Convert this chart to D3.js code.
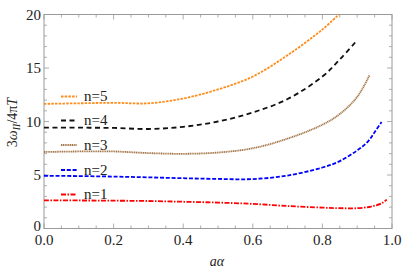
<!DOCTYPE html>
<html>
<head>
<meta charset="utf-8">
<script src="https://cdn.jsdelivr.net/npm/d3@7"></script>
<style>
  body { margin: 0; background: #fff; }
</style>
</head>
<body>
<div id="chart"></div>
<script>
// values
const x1 = [0, 0.1, 0.2, 0.3, 0.4, 0.5, 0.6, 0.7, 0.8, 0.85, 0.9, 0.94, 0.97, 0.985];
const y1 = [2.62, 2.62, 2.6, 2.57, 2.5, 2.42, 2.3, 2.1, 1.95, 1.9, 1.9, 2.05, 2.35, 2.7];
const x2 = [0, 0.1, 0.2, 0.3, 0.4, 0.5, 0.6, 0.7, 0.8, 0.85, 0.9, 0.93, 0.95, 0.97];
const y2 = [4.93, 4.9, 4.85, 4.78, 4.7, 4.63, 4.62, 4.95, 5.7, 6.3, 7.3, 8.1, 9.0, 9.95];
const x3 = [0, 0.1, 0.2, 0.3, 0.4, 0.5, 0.6, 0.7, 0.8, 0.85, 0.9, 0.935];
const y3 = [7.15, 7.2, 7.2, 7.05, 6.98, 7.1, 7.5, 8.4, 9.7, 10.7, 12.3, 14.3];
const x4 = [0, 0.1, 0.2, 0.3, 0.4, 0.5, 0.6, 0.7, 0.8, 0.85, 0.9];
const y4 = [9.42, 9.42, 9.4, 9.3, 9.5, 10.0, 10.85, 12.1, 14.2, 15.8, 17.6];
const x5 = [0, 0.1, 0.2, 0.3, 0.4, 0.5, 0.6, 0.7, 0.8, 0.847];
const y5 = [11.65, 11.7, 11.75, 11.7, 12.15, 13.0, 14.2, 16.2, 18.6, 20];

const seriesNames = ['n=1', 'n=2', 'n=3', 'n=4', 'n=5'];
const xTicks = [0, 0.2, 0.4, 0.6, 0.8, 1.0];
const yTicks = [0, 5, 10, 15, 20];

const width = 409, height = 274;
const margin = { left: 44, top: 14.5, right: 17, bottom: 45.5 };
const serif = '"Liberation Serif", "Times New Roman", Tinos, "DejaVu Serif", serif';

const styles = [
    { color: '#ff0000', dash: '5,1.5,1.5,1.5' },
    { color: '#0000ff', dash: '4,1.8' },
    { color: '#a47648', dash: '1.2,0.6' },
    { color: '#111111', dash: '5,3.5' },
    { color: '#ff8c1a', dash: '2.5,1.2' }
];

const xs = [x1, x2, x3, x4, x5];
const ys = [y1, y2, y3, y4, y5];

const svg = d3.select('#chart').append('svg')
    .attr('width', width)
    .attr('height', height)
    .attr('font-family', serif);

const x = d3.scaleLinear().domain([0, 1]).range([margin.left, width - margin.right]);
const y = d3.scaleLinear().domain([0, 20]).range([height - margin.bottom, margin.top]);

const frameColor = '#9a9a9a';

// frame
svg.append('rect')
    .attr('x', x(0)).attr('y', y(20))
    .attr('width', x(1) - x(0)).attr('height', y(0) - y(20))
    .attr('fill', 'none').attr('stroke', frameColor).attr('stroke-width', 1);

// ticks on all four sides, pointing inwards
const xMinor = d3.range(0, 1.0001, 0.05);
const yMinor = d3.range(0, 20.0001, 1);
const tickG = svg.append('g').attr('stroke', frameColor).attr('stroke-width', 0.8);

xMinor.forEach(function(v) {
    const major = Math.abs(v * 5 - Math.round(v * 5)) < 1e-6;
    const len = major ? 5 : 3;
    tickG.append('line').attr('x1', x(v)).attr('x2', x(v)).attr('y1', y(0)).attr('y2', y(0) - len);
    tickG.append('line').attr('x1', x(v)).attr('x2', x(v)).attr('y1', y(20)).attr('y2', y(20) + len);
});
yMinor.forEach(function(v) {
    const major = v % 5 === 0;
    const len = major ? 5 : 3;
    tickG.append('line').attr('x1', x(0)).attr('x2', x(0) + len).attr('y1', y(v)).attr('y2', y(v));
    tickG.append('line').attr('x1', x(1)).attr('x2', x(1) - len).attr('y1', y(v)).attr('y2', y(v));
});

// tick labels
svg.append('g').selectAll('text').data(xTicks).enter()
    .append('text')
    .attr('x', d => x(d))
    .attr('y', y(0) + 16.5)
    .attr('text-anchor', 'middle')
    .attr('font-size', 15)
    .attr('fill', '#222')
    .text(d => d3.format('.1f')(d));

svg.append('g').selectAll('text').data(yTicks).enter()
    .append('text')
    .attr('x', x(0) - 3)
    .attr('y', d => y(d) + (d === 0 ? 2.5 : 5))
    .attr('text-anchor', 'end')
    .attr('font-size', 15)
    .attr('fill', '#222')
    .text(d => d);

// axis titles
svg.append('text')
    .attr('x', x(0.5) - 1)
    .attr('y', 266)
    .attr('text-anchor', 'middle')
    .attr('font-size', 14)
    .attr('font-style', 'italic')
    .attr('fill', '#222')
    .text('aα');

const yl = svg.append('text')
    .attr('transform', 'translate(17,' + (y(10) + 1) + ') rotate(-90)')
    .attr('text-anchor', 'middle')
    .attr('font-size', 14)
    .attr('fill', '#222');
yl.append('tspan').text('3');
yl.append('tspan').attr('font-style', 'italic').text('ω');
yl.append('tspan').attr('font-size', 10).attr('dy', 3).attr('font-style', 'italic').text('II');
yl.append('tspan').attr('dy', -3).text('/4π');
yl.append('tspan').attr('font-style', 'italic').text('T');

// curves
const line = d3.line()
    .x(d => x(d[0]))
    .y(d => y(d[1]))
    .curve(d3.curveCatmullRom.alpha(0.5));

const plot = svg.append('g');
seriesNames.forEach(function(name, i) {
    const pts = xs[i].map((v, j) => [v, ys[i][j]]);
    plot.append('path')
        .datum(pts)
        .attr('d', line)
        .attr('fill', 'none')
        .attr('stroke', styles[i].color)
        .attr('stroke-width', 1.8)
        .attr('stroke-dasharray', styles[i].dash);
});

// legend, n=5 on top
const legendY = [194.5, 170, 145, 120.5, 96.5];
const legend = svg.append('g');
seriesNames.forEach(function(name, i) {
    legend.append('line')
        .attr('x1', 61).attr('x2', 77)
        .attr('y1', legendY[i]).attr('y2', legendY[i])
        .attr('stroke', styles[i].color)
        .attr('stroke-width', 1.8)
        .attr('stroke-dasharray', styles[i].dash);
    legend.append('text')
        .attr('x', 84)
        .attr('y', legendY[i] + 4.5)
        .attr('font-size', 15)
        .attr('fill', '#222')
        .text(name);
});
</script>
</body>
</html>
